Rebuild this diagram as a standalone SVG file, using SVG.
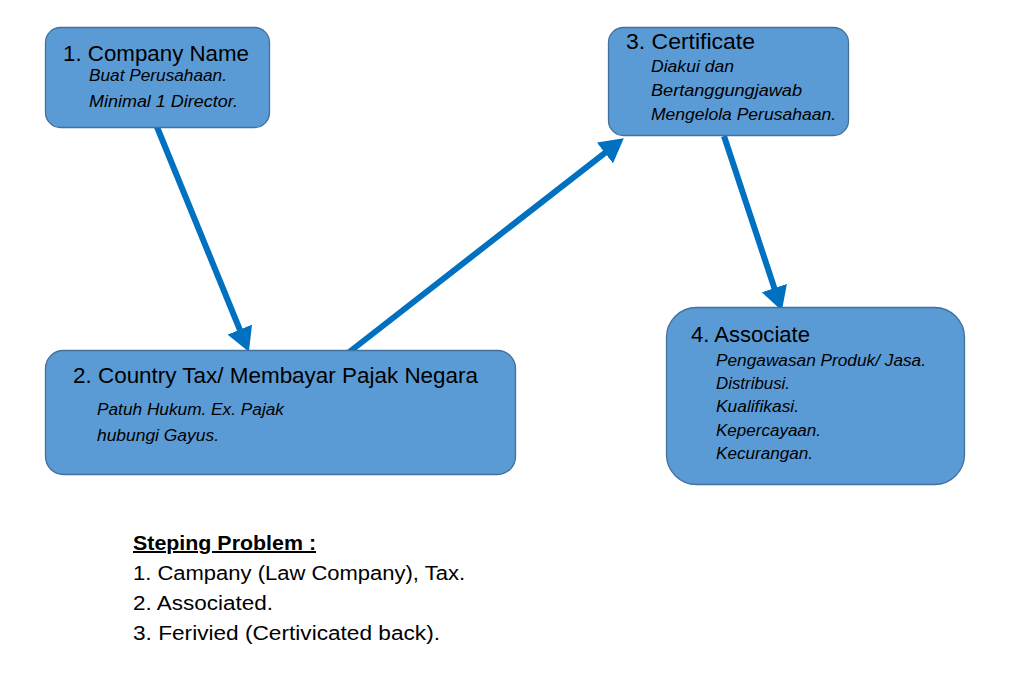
<svg xmlns="http://www.w3.org/2000/svg" width="1033" height="686" viewBox="0 0 1033 686">
<style>
.box{fill:#5B9BD5;stroke:#41719C;stroke-width:1.3}
.h{font-family:"Liberation Sans",Arial,sans-serif;font-size:22px;fill:#000}
.s{font-family:"Liberation Sans",Arial,sans-serif;font-size:16px;font-style:italic;fill:#000}
.b{font-family:"Liberation Sans",Arial,sans-serif;font-size:20px;fill:#000}
.c{stroke:#0070C0;stroke-width:6;fill:none}
</style>
<defs>
<marker id="ah" markerWidth="4" markerHeight="4.4" refX="2.2" refY="2.2" orient="auto" markerUnits="strokeWidth">
<path d="M0,0 L4,2.2 L0,4.4 Z" fill="#0070C0"/>
</marker>
</defs>
<rect width="1033" height="686" fill="#fff"/>
<g id="connectors">
<line class="c" x1="157" y1="127" x2="244.8" y2="341.8" marker-end="url(#ah)"/>
<line class="c" x1="348" y1="353" x2="615.3" y2="144.8" marker-end="url(#ah)"/>
<line class="c" x1="724" y1="136" x2="778.5" y2="300.6" marker-end="url(#ah)"/>
</g>
<g id="node1">
<rect class="box" x="45.5" y="27.5" width="224" height="100" rx="15"/>
<text class="h" x="63" y="61" textLength="186" lengthAdjust="spacingAndGlyphs">1. Company Name</text>
<text class="s" x="89" y="81" textLength="138" lengthAdjust="spacingAndGlyphs">Buat Perusahaan.</text>
<text class="s" x="89" y="107" textLength="149" lengthAdjust="spacingAndGlyphs">Minimal 1 Director.</text>
</g>
<g id="node3">
<rect class="box" x="608.5" y="27.5" width="240" height="108" rx="15"/>
<text class="h" x="626" y="49" textLength="129" lengthAdjust="spacingAndGlyphs">3. Certificate</text>
<text class="s" x="651" y="72" textLength="83" lengthAdjust="spacingAndGlyphs">Diakui dan</text>
<text class="s" x="651" y="96" textLength="151" lengthAdjust="spacingAndGlyphs">Bertanggungjawab</text>
<text class="s" x="651" y="120" textLength="185" lengthAdjust="spacingAndGlyphs">Mengelola Perusahaan.</text>
</g>
<g id="node2">
<rect class="box" x="45.5" y="350.5" width="470" height="124" rx="18"/>
<text class="h" x="73" y="383" textLength="405" lengthAdjust="spacingAndGlyphs">2. Country Tax/ Membayar Pajak Negara</text>
<text class="s" x="97" y="415" textLength="187" lengthAdjust="spacingAndGlyphs">Patuh Hukum. Ex. Pajak</text>
<text class="s" x="97" y="441" textLength="122" lengthAdjust="spacingAndGlyphs">hubungi Gayus.</text>
</g>
<g id="node4">
<rect class="box" x="666.5" y="307.5" width="298" height="177" rx="30"/>
<text class="h" x="691" y="342" textLength="119" lengthAdjust="spacingAndGlyphs">4. Associate</text>
<text class="s" x="716" y="366" textLength="210" lengthAdjust="spacingAndGlyphs">Pengawasan Produk/ Jasa.</text>
<text class="s" x="716" y="389" textLength="74" lengthAdjust="spacingAndGlyphs">Distribusi.</text>
<text class="s" x="716" y="412" textLength="83" lengthAdjust="spacingAndGlyphs">Kualifikasi.</text>
<text class="s" x="716" y="436" textLength="105" lengthAdjust="spacingAndGlyphs">Kepercayaan.</text>
<text class="s" x="716" y="459" textLength="97" lengthAdjust="spacingAndGlyphs">Kecurangan.</text>
</g>
<g id="notes">
<text class="b" x="133" y="550" font-weight="bold" text-decoration="underline" textLength="183" lengthAdjust="spacingAndGlyphs">Steping Problem :</text>
<text class="b" x="133" y="580" textLength="332" lengthAdjust="spacingAndGlyphs">1. Campany (Law Company), Tax.</text>
<text class="b" x="133" y="610" textLength="140" lengthAdjust="spacingAndGlyphs">2. Associated.</text>
<text class="b" x="133" y="640" textLength="307" lengthAdjust="spacingAndGlyphs">3. Ferivied (Certivicated back).</text>
</g>
</svg>
